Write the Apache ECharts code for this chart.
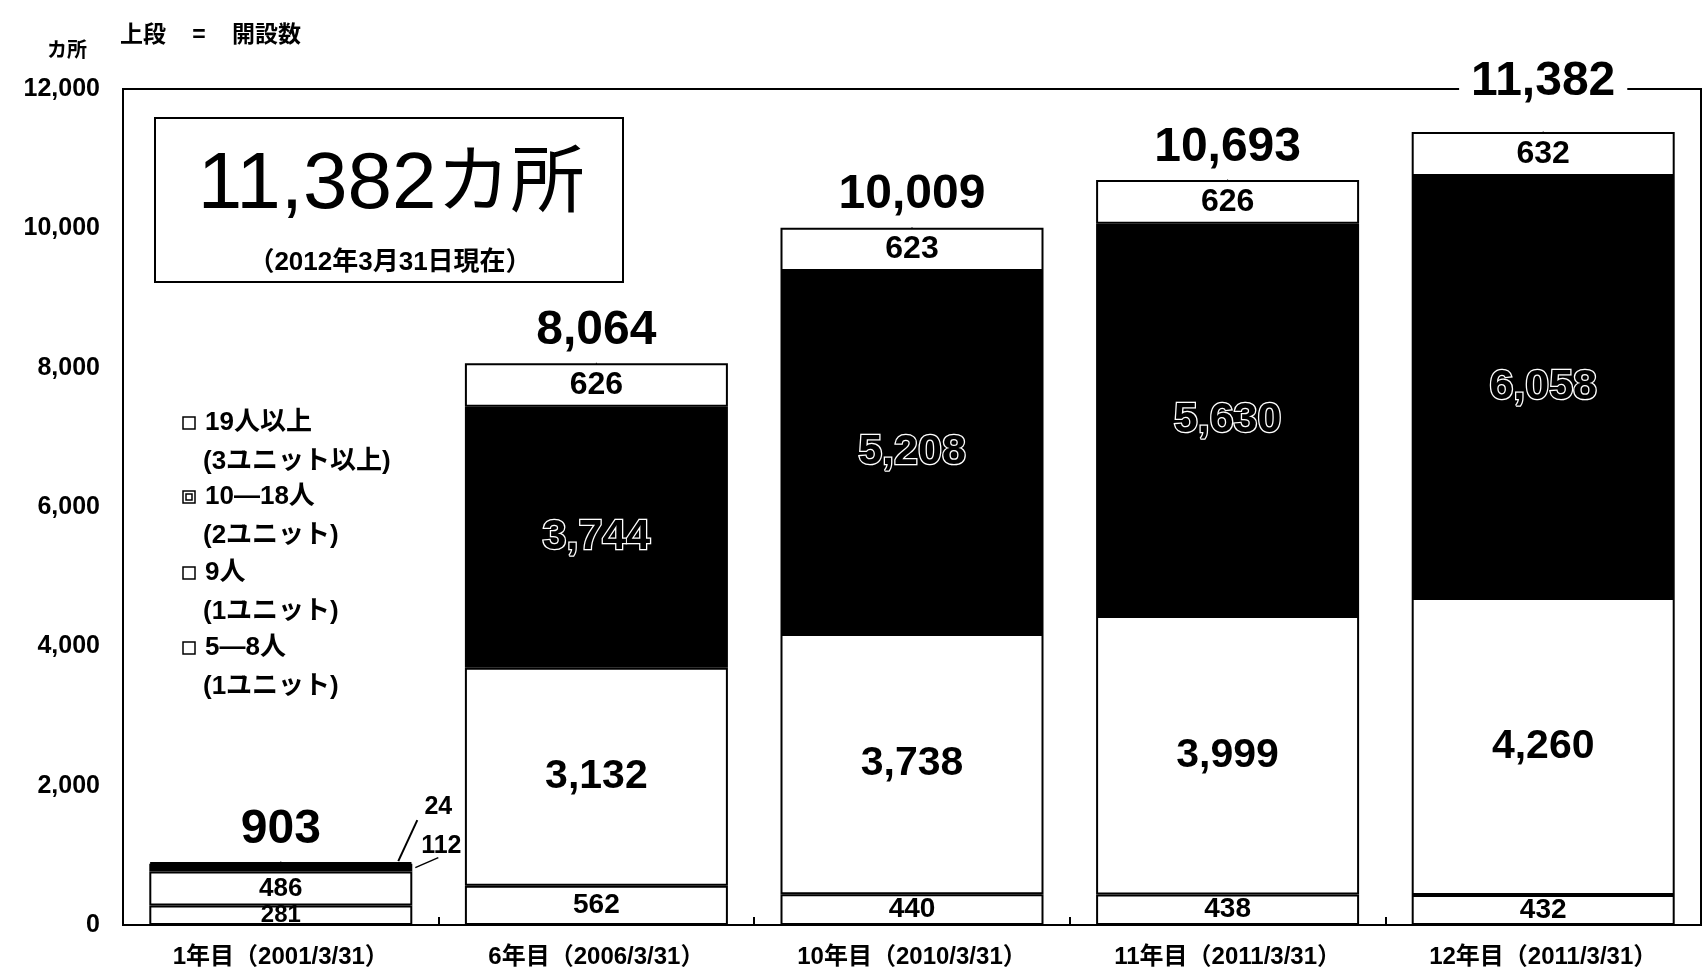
<!DOCTYPE html>
<html>
<head>
<meta charset="utf-8">
<script src="https://cdn.jsdelivr.net/npm/echarts@6/dist/echarts.min.js"></script>
<style>
  html, body { margin: 0; padding: 0; background: #fff; }
  #chart { width: 1708px; height: 974px; }
</style>
</head>
<body>
<div id="chart"></div>
<script>
// Group homes opened, by unit size (stacked, bottom to top)
const categories = ['1年目（2001/3/31）', '6年目（2006/3/31）', '10年目（2010/3/31）', '11年目（2011/3/31）', '12年目（2011/3/31）'];
const units5to8 = [281, 562, 440, 438, 432];
const units9 = [486, 3132, 3738, 3999, 4260];
const units10to18 = [112, 3744, 5208, 5630, 6058];
const units19plus = [24, 626, 623, 626, 632];
const totals = [903, 8064, 10009, 10693, 11382];
const seriesNames = ['5—8人', '9人', '10—18人', '19人以上'];
const legendLines = [
  ['19人以上', '(3ユニット以上)'],
  ['10—18人', '(2ユニット)'],
  ['9人', '(1ユニット)'],
  ['5—8人', '(1ユニット)']
];

const FONT = "'Liberation Sans','Noto Sans CJK JP',sans-serif";
const BAR_W = 263;
const fmt = v => Number(v).toLocaleString('en-US');

// first bar: the two thin top segments get callout labels instead
const hideFirst = (arr) => arr.map((v, i) => i === 0 ? { value: v, label: { show: false } } : v);
const smallFirst = (arr, size) => arr.map((v, i) => i === 0 ? { value: v, label: { fontSize: size } } : v);

const whiteBar = { color: '#fff', borderColor: '#000', borderWidth: 2 };
const blackBar = { color: '#000', borderColor: '#000', borderWidth: 2 };

const chart = echarts.init(document.getElementById('chart'), null, { renderer: 'canvas' });

chart.setOption({
  animation: false,
  backgroundColor: '#fff',
  textStyle: { fontFamily: FONT },
  grid: {
    left: 123, right: 7, top: 89, bottom: 49,
    show: true, borderColor: '#000', borderWidth: 2, backgroundColor: 'transparent'
  },
  xAxis: {
    type: 'category',
    data: categories,
    axisLine: { lineStyle: { color: '#000', width: 2 } },
    axisTick: { show: true, inside: true, length: 8, lineStyle: { color: '#000', width: 2 } },
    axisLabel: { color: '#000', fontSize: 24, fontWeight: 'bold', margin: 20, fontFamily: FONT }
  },
  yAxis: {
    type: 'value',
    min: 0, max: 12000, interval: 2000,
    axisLine: { show: true, lineStyle: { color: '#000', width: 2 } },
    axisTick: { show: false },
    splitLine: { show: false },
    axisLabel: { color: '#000', fontSize: 25, fontWeight: 'bold', margin: 23, formatter: fmt, fontFamily: FONT }
  },
  series: [
    {
      name: seriesNames[0], type: 'bar', stack: 'total', barWidth: BAR_W,
      data: smallFirst(units5to8, 24), itemStyle: whiteBar,
      label: { show: true, position: 'inside', color: '#000', fontSize: 28, fontWeight: 'bold', formatter: p => fmt(p.value) }
    },
    {
      name: seriesNames[1], type: 'bar', stack: 'total', barWidth: BAR_W,
      data: smallFirst(units9, 26), itemStyle: whiteBar,
      label: { show: true, position: 'inside', color: '#000', fontSize: 41, fontWeight: 'bold', formatter: p => fmt(p.value) }
    },
    {
      name: seriesNames[2], type: 'bar', stack: 'total', barWidth: BAR_W,
      data: hideFirst(units10to18), itemStyle: blackBar,
      label: {
        show: true, position: 'inside', color: '#000', fontSize: 43, fontWeight: 'bold',
        textBorderColor: '#fff', textBorderWidth: 2.5, formatter: p => fmt(p.value)
      }
    },
    {
      name: seriesNames[3], type: 'bar', stack: 'total', barWidth: BAR_W,
      data: hideFirst(units19plus), itemStyle: whiteBar,
      label: { show: true, position: 'inside', color: '#000', fontSize: 32, fontWeight: 'bold', formatter: p => fmt(p.value) }
    },
    {
      // stack totals written above each bar
      name: '開設数', type: 'scatter', symbol: 'rect', symbolSize: 1,
      itemStyle: { color: '#000', opacity: 1 },
      z: 10,
      data: totals.map((v, i) => i === totals.length - 1
        ? { value: v, label: { offset: [0, -18], backgroundColor: '#fff', padding: [0, 12] } }
        : v),
      label: {
        show: true, position: 'top', distance: 8, color: '#000', opacity: 1,
        fontSize: 48, fontWeight: 'bold', formatter: p => fmt(p.value)
      }
    }
  ]
});

// Annotations placed from the chart's own coordinate system
const topOfFirst = chart.convertToPixel({ seriesIndex: 0 }, [0, totals[0]]);
const midOf112 = chart.convertToPixel({ seriesIndex: 0 }, [0, units5to8[0] + units9[0] + units10to18[0] / 2]);
const barRight = topOfFirst[0] + BAR_W / 2;

const graphics = [];
const txt = (x, y, text, font, align) => ({
  type: 'text', x, y, z: 20,
  style: { text, font, fill: '#000', align: align || 'left', verticalAlign: 'middle' }
});

// unit label and heading
graphics.push(txt(67, 51, 'カ所', "bold 20px " + FONT, 'center'));
graphics.push(txt(120, 36, '上段', "bold 23px " + FONT));
graphics.push(txt(199, 36, '=', "bold 23px " + FONT, 'center'));
graphics.push(txt(232, 36, '開設数', "bold 23px " + FONT));

// headline box
graphics.push({
  type: 'rect', z: 15,
  shape: { x: 155, y: 118, width: 468, height: 164 },
  style: { fill: '#fff', stroke: '#000', lineWidth: 2 }
});
graphics.push({
  type: 'text', x: 391, y: 186, z: 20,
  style: {
    text: '{n|11,382}{u|カ所}', align: 'center', verticalAlign: 'middle', fill: '#000',
    rich: {
      n: { fontSize: 80, fontFamily: FONT, fontWeight: 'normal', fill: '#000' },
      u: { fontSize: 74, fontFamily: FONT, fontWeight: 'normal', fill: '#000' }
    }
  }
});
graphics.push(txt(390, 263, '（2012年3月31日現在）', "bold 26px " + FONT, 'center'));

// legend
const legendY = [423, 497, 573, 648];
legendLines.forEach((lines, k) => {
  const y = legendY[k];
  graphics.push({
    type: 'rect', z: 20,
    shape: { x: 183, y: y - 6, width: 12, height: 12 },
    style: { fill: '#fff', stroke: '#000', lineWidth: 1.5 }
  });
  if (k === 1) {
    graphics.push({
      type: 'rect', z: 21,
      shape: { x: 186, y: y - 3, width: 6, height: 6 },
      style: { fill: '#fff', stroke: '#000', lineWidth: 1.5 }
    });
  }
  graphics.push(txt(205, y, lines[0], "bold 26px " + FONT));
  graphics.push(txt(203, y + 39, lines[1], "bold 26px " + FONT));
});

// callouts for the thin top segments of the first bar
graphics.push({
  type: 'line', z: 20,
  shape: { x1: barRight - 14, y1: topOfFirst[1] - 1, x2: barRight + 5, y2: topOfFirst[1] - 42 },
  style: { stroke: '#000', lineWidth: 2 }
});
graphics.push(txt(barRight + 26, topOfFirst[1] - 55, String(units19plus[0]), "bold 25px " + FONT, 'center'));
graphics.push({
  type: 'line', z: 20,
  shape: { x1: barRight + 3, y1: midOf112[1], x2: barRight + 26, y2: midOf112[1] - 10 },
  style: { stroke: '#000', lineWidth: 1.5 }
});
graphics.push(txt(barRight + 29, midOf112[1] - 22, String(units10to18[0]), "bold 25px " + FONT, 'center'));

chart.setOption({ graphic: graphics });
</script>
</body>
</html>
